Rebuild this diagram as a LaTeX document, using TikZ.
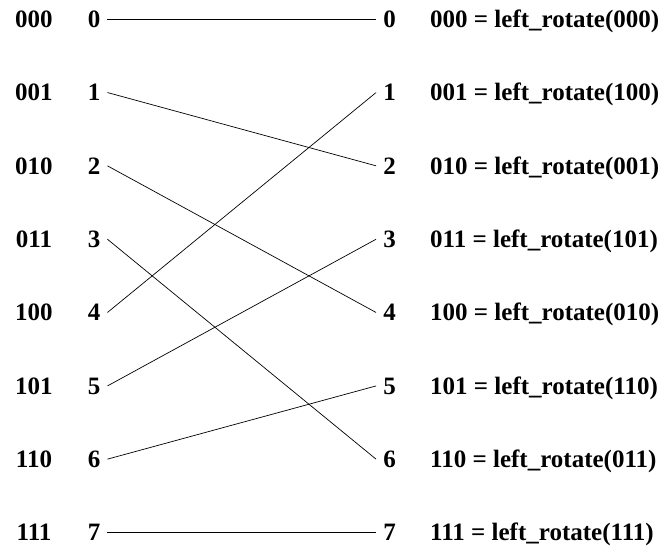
\documentclass[tikz,border=0pt]{standalone}
\usepackage{fontspec}
\setmainfont{Liberation Serif}
\begin{document}
\begin{tikzpicture}[x=1pt,y=-1pt,
  txt/.style={font=\fontsize{25}{27}\selectfont\bfseries, inner sep=0pt, anchor=base},
  dig/.style={txt, inner xsep=7pt},
  rtxt/.style={txt, anchor=base west},
  wire/.style={line width=0.7pt}]
\useasboundingbox (0,0) rectangle (664,548);
\foreach \k/\b/\r in {0/000/000,1/001/100,2/010/001,3/011/101,4/100/010,5/101/110,6/110/011,7/111/111}{
  \pgfmathsetmacro\yb{27.5+73.3*\k}
  \node[txt] (B\k) at (34,\yb) {\b};
  \node[dig] (L\k) at (94,\yb) {\k};
  \node[dig] (R\k) at (389.5,\yb) {\k};
  \node[rtxt] (T\k) at (430,\yb) {\b\ = left\_rotate(\r)};
}
\foreach \a/\c in {0/0,1/2,2/4,3/6,4/1,5/3,6/5,7/7}
  \draw[wire] (L\a.east) -- (R\c.west);
\end{tikzpicture}
\end{document}
